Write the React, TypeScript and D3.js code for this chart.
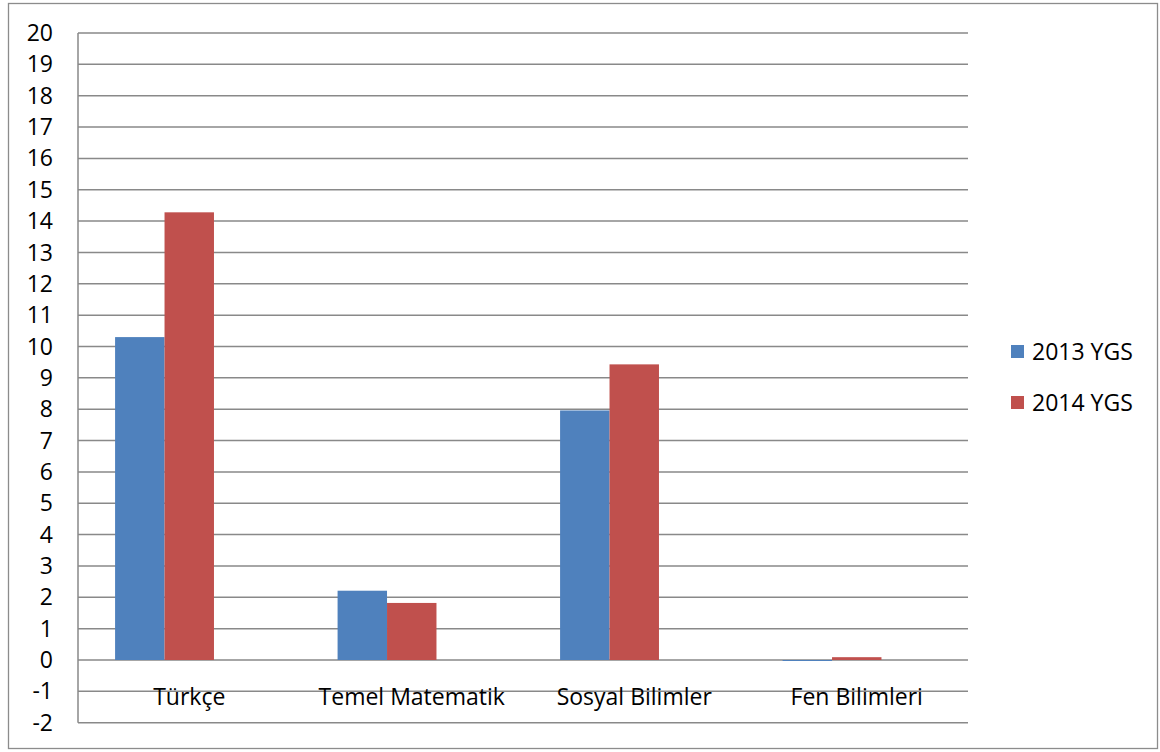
import React from "react";
import * as d3 from "d3";

const categories = ["Türkçe", "Temel Matematik", "Sosyal Bilimler", "Fen Bilimleri"];
const series = ["2013 YGS", "2014 YGS"];
const values2013 = [10.3, 2.21, 7.96, -0.03];
const values2014 = [14.28, 1.82, 9.43, 0.09];
const yTicks = d3.range(-2, 21, 1);
const colors = ["#4F81BD", "#C0504D"];

const App: React.FC = () => {
  const width = 1160;
  const height = 752;
  const plot = { left: 78, right: 968, top: 33, bottom: 722.7 };
  const font = "'Open Sans', 'Noto Sans', sans-serif";
  const fontSize = 23;

  const y = d3.scaleLinear().domain([-2, 20]).range([plot.bottom, plot.top]);

  const x0 = d3
    .scaleBand<string>()
    .domain(categories)
    .range([plot.left, plot.right])
    .padding(0);

  // third empty slot keeps the bars left of the category center, like the source
  const x1 = d3
    .scaleBand<string>()
    .domain([...series, "empty"])
    .range([0, x0.bandwidth()])
    .paddingInner(0)
    .paddingOuter(0.75);

  const data = [values2013, values2014];

  return (
    <svg
      width={width}
      height={height}
      style={{ position: "absolute", left: 0, top: 0, background: "#fff" }}
    >
      <rect x={8.5} y={3.5} width={1149} height={745} fill="#fff" stroke="#8c8c8c" strokeWidth={1.3} />

      {/* Gridlines */}
      {yTicks.map((t) => (
        <line
          key={t}
          x1={plot.left}
          x2={plot.right}
          y1={y(t)}
          y2={y(t)}
          stroke="#898989"
          strokeWidth={1.5}
        />
      ))}

      {/* Bars */}
      {categories.map((c, i) => (
        <g key={c} transform={`translate(${x0(c)}, 0)`}>
          {series.map((s, j) => {
            const v = data[j][i];
            const top = y(Math.max(0, v));
            const h = Math.max(Math.abs(y(v) - y(0)), 1);
            return (
              <rect
                key={s}
                x={x1(s) ?? 0}
                y={top}
                width={x1.bandwidth()}
                height={h}
                fill={colors[j]}
              />
            );
          })}
        </g>
      ))}

      {/* Eje Y */}
      <line x1={plot.left} x2={plot.left} y1={plot.top} y2={plot.bottom} stroke="#898989" strokeWidth={1.5} />
      {yTicks.map((t) => (
        <text
          key={t}
          x={53}
          y={y(t)}
          dy="0.35em"
          textAnchor="end"
          fontFamily={font}
          fontSize={fontSize}
          fill="#000"
        >
          {t}
        </text>
      ))}

      {/* Category labels */}
      {categories.map((c) => (
        <text
          key={c}
          x={(x0(c) ?? 0) + x0.bandwidth() / 2}
          y={705}
          textAnchor="middle"
          fontFamily={font}
          fontSize={fontSize}
          fill="#000"
        >
          {c}
        </text>
      ))}

      {/* Legend */}
      {series.map((s, j) => (
        <g key={s} transform={`translate(1011, ${345 + j * 51})`}>
          <rect width={13} height={13} fill={colors[j]} />
          <text x={21} y={6.5} dy="0.35em" fontFamily={font} fontSize={fontSize} fill="#000">
            {s}
          </text>
        </g>
      ))}
    </svg>
  );
};

export default App;
